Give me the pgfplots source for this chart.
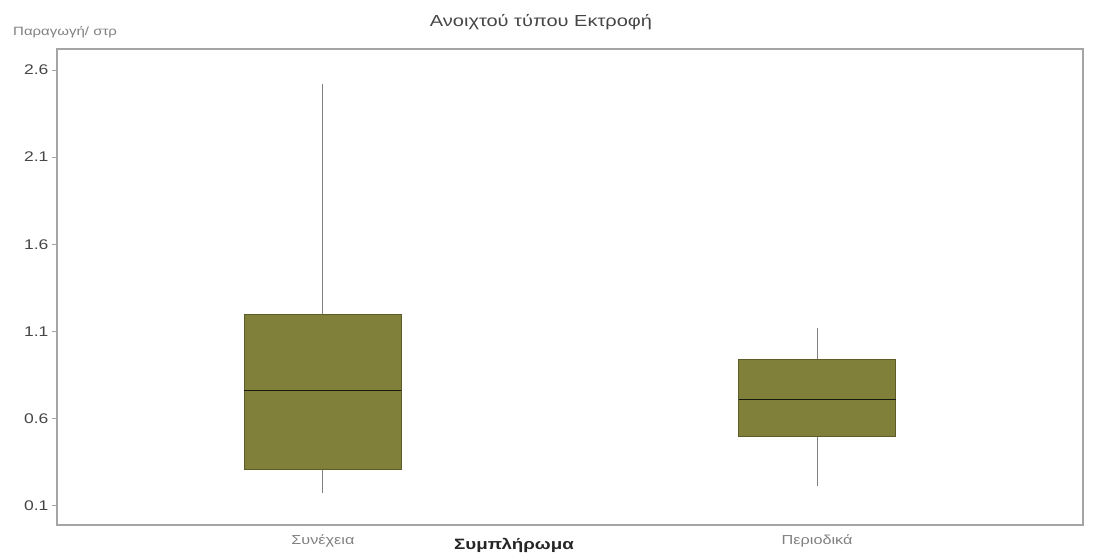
\documentclass[border=0pt]{standalone}
\usepackage{fontspec}
\setmainfont{Liberation Sans}
\newfontfamily\widefont[FakeStretch=1.25]{Liberation Sans}
\usepackage{pgfplots}
\pgfplotsset{compat=1.18}
\usepgfplotslibrary{statistics}

\definecolor{boxfill}{RGB}{128,128,58}
\definecolor{boxedge}{RGB}{92,92,40}
\definecolor{framegray}{RGB}{165,165,165}
\definecolor{textgray}{RGB}{70,70,70}

\begin{document}
\begin{tikzpicture}
    \path[use as bounding box] (0,0) rectangle (1103bp,557bp);
    \begin{axis}[
        at={(57bp,32bp)}, anchor=south west,
        scale only axis,
        width=1026bp, height=476bp,
        xmin=0.462, xmax=2.538,
        ymin=-0.011, ymax=2.72,
        xtick={1,2},
        xticklabels={Συνέχεια, Περιοδικά},
        xtick style={draw=none},
        ytick={0.1,0.6,1.1,1.6,2.1,2.6},
        ytick pos=left,
        yticklabel style={/pgf/number format/.cd, fixed, fixed zerofill, precision=1,
            /tikz/.cd, font=\widefont\fontsize{14bp}{16bp}\selectfont, text=textgray},
        xticklabel style={font=\widefont\fontsize{13bp}{15bp}\selectfont, text=gray, yshift=-1bp},
        /pgf/number format/assume math mode=true,
        tick align=outside,
        major tick length=5bp,
        ytick style={framegray, line width=0.8pt},
        axis line style={framegray, line width=1.2pt},
        boxplot/draw direction=y,
    ]
        % Συνέχεια
        \addplot[boxplot prepared={
                lower whisker=0.17, lower quartile=0.31, median=0.76,
                upper quartile=1.20, upper whisker=2.52,
                draw position=1, box extend=0.318, whisker extend=0,
                every box/.style={draw=boxedge, fill=boxfill, line width=0.8pt},
                every whisker/.style={draw=gray, line width=0.8pt},
                every median/.style={draw=black!80!boxfill, line width=1.2pt}},
            ] coordinates {};
        % Περιοδικά
        \addplot[boxplot prepared={
                lower whisker=0.21, lower quartile=0.50, median=0.71,
                upper quartile=0.94, upper whisker=1.12,
                draw position=2, box extend=0.318, whisker extend=0,
                every box/.style={draw=boxedge, fill=boxfill, line width=0.8pt},
                every whisker/.style={draw=gray, line width=0.8pt},
                every median/.style={draw=black!80!boxfill, line width=1.2pt}},
            ] coordinates {};
    \end{axis}
    \node[text=textgray, font=\widefont\fontsize{16bp}{18bp}\selectfont] at (541bp,535bp) {Ανοιχτού τύπου Εκτροφή};
    \node[anchor=west, text=gray, font=\widefont\fontsize{12bp}{14bp}\selectfont, inner sep=0pt] at (13bp,525bp) {Παραγωγή/ στρ};
    \node[font=\widefont\bfseries\fontsize{15bp}{17bp}\selectfont, text=black!85] at (514bp,12bp) {Συμπλήρωμα};
\end{tikzpicture}
\end{document}
